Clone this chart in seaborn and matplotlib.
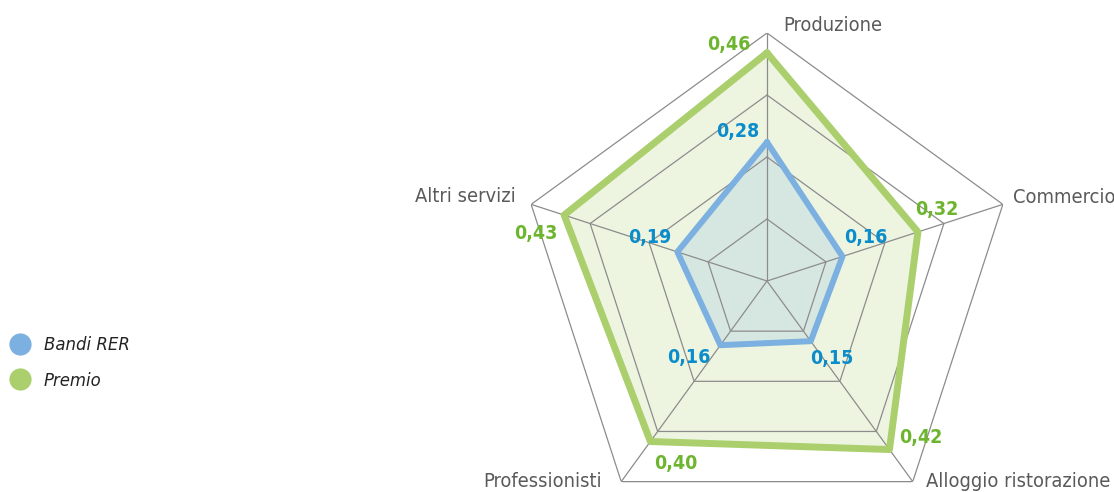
import numpy as np
import matplotlib
matplotlib.use("Agg")
import matplotlib.pyplot as plt
from matplotlib.lines import Line2D
import seaborn as sns

categories = ["Produzione", "Commercio", "Alloggio ristorazione", "Professionisti", "Altri servizi"]
bandi_rer = [0.28, 0.16, 0.15, 0.16, 0.19]
premio = [0.46, 0.32, 0.42, 0.40, 0.43]
bandi_labels = ["0,28", "0,16", "0,15", "0,16", "0,19"]
premio_labels = ["0,46", "0,32", "0,42", "0,40", "0,43"]
ring_levels = [0.125, 0.25, 0.375, 0.5]
r_max = 0.5

sns.set_theme(style="white")
FONT = ["DejaVu Sans"]
plt.rcParams["font.family"] = FONT
plt.rcParams["font.stretch"] = "condensed"

W, H = 1114, 492
fig = plt.figure(figsize=(W / 100, H / 100), dpi=100)
cx, cy, R = 767, 281, 248
ax = fig.add_axes([(cx - R) / W, (H - cy - R) / H, 2 * R / W, 2 * R / H], projection="polar")
ax.set_theta_offset(np.pi / 2)
ax.set_theta_direction(-1)
ax.set_ylim(0, r_max)
ax.set_axis_off()
ax.patch.set_alpha(0)

n = len(categories)
theta = np.linspace(0, 2 * np.pi, n, endpoint=False)
theta_c = np.append(theta, 2 * np.pi)

def closed(v):
    return np.append(v, v[0])

# fills
ax.fill(theta_c, closed(premio), color="#edf5e1", zorder=1, lw=0)
ax.fill(theta_c, closed(bandi_rer), color="#d6e7e1", zorder=1.5, lw=0)

# grid
grid_c = "#8c8c8c"
for lev in ring_levels:
    ax.plot(theta_c, [lev] * (n + 1), color=grid_c, lw=0.9, zorder=2)
for t in theta:
    ax.plot([t, t], [0, r_max], color=grid_c, lw=0.9, zorder=2)

# series lines
sns.lineplot(x=theta_c, y=closed(premio), sort=False, estimator=None, ax=ax,
             color="#aacf6c", lw=5.0, zorder=3)
sns.lineplot(x=theta_c, y=closed(bandi_rer), sort=False, estimator=None, ax=ax,
             color="#7bb0e0", lw=4.3, zorder=4)
ax.set_axis_off()
ax.set_ylim(0, r_max)

# value labels (pixel offsets)
premio_off = [(-38, 8), (19, 22), (31, 12), (25, -22), (-28, -18)]
bandi_off = [(-29, 11), (23, 19), (21, -17), (-32, -12), (-28, 14)]
for t, v, s, o in zip(theta, premio, premio_labels, premio_off):
    ax.annotate(s, (t, v), xytext=o, textcoords="offset pixels", ha="center", va="center",
                color="#6db52e", fontsize=14, fontweight="bold", fontstretch="condensed",
                zorder=6, annotation_clip=False)
for t, v, s, o in zip(theta, bandi_rer, bandi_labels, bandi_off):
    ax.annotate(s, (t, v), xytext=o, textcoords="offset pixels", ha="center", va="center",
                color="#0b8ccb", fontsize=14, fontweight="bold", fontstretch="condensed",
                zorder=6, annotation_clip=False)

# category labels
cat_off = [(16, 8, "left"), (10, 7, "left"), (13, 0, "left"), (-19, 0, "right"), (-15, 8, "right")]
for t, c, (dx, dy, ha) in zip(theta, categories, cat_off):
    ax.annotate(c, (t, r_max), xytext=(dx, dy), textcoords="offset pixels", ha=ha, va="center",
                color="#5a5a5a", fontsize=14.4, fontstretch="condensed", annotation_clip=False)

# legend
handles = [Line2D([], [], marker="o", ls="none", markersize=16, markerfacecolor="#7bb0e0", markeredgecolor="none"),
           Line2D([], [], marker="o", ls="none", markersize=16, markerfacecolor="#aacf6c", markeredgecolor="none")]
leg = fig.legend(handles, ["Bandi RER", "Premio"], loc="center left",
                 bbox_to_anchor=(7 / W, 1 - 363 / H),
                 frameon=False, handlelength=1.0, handletextpad=0.8, labelspacing=0.95,
                 borderaxespad=0.0, borderpad=0.2,
                 prop={"family": FONT, "style": "italic", "size": 13.2, "stretch": "condensed"})
for txt in leg.get_texts():
    txt.set_color("#222222")

fig.savefig("out.png", dpi=100)
